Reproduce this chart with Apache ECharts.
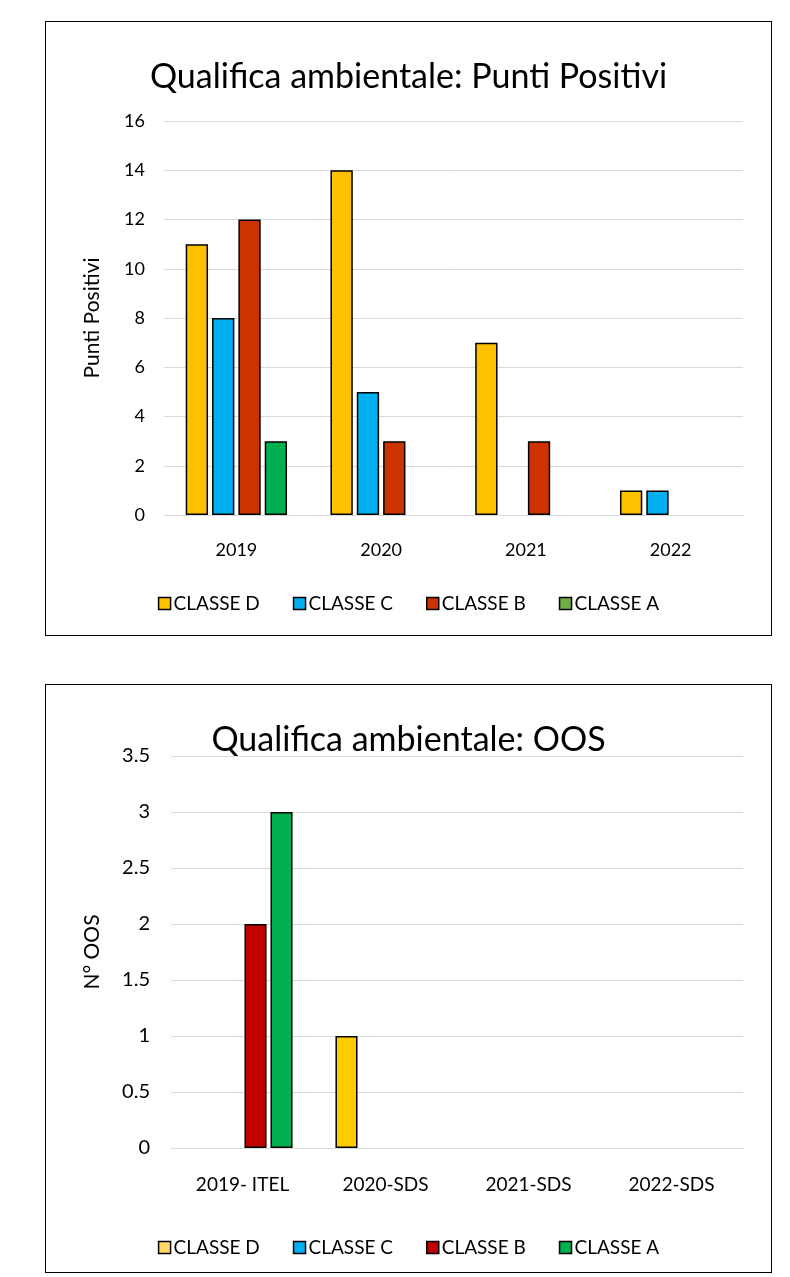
<!DOCTYPE html>
<html>
<head>
<meta charset="utf-8">
<script src="https://cdn.jsdelivr.net/npm/echarts@6/dist/echarts.min.js"></script>
<style>
  html, body { margin: 0; padding: 0; background: #fff; }
  body { width: 790px; height: 1277px; position: relative; }
  .box { position: absolute; border: 1.5px solid #000; box-sizing: border-box; background: #fff; }
  #c1 { left: 45px; top: 21px; width: 727px; height: 615px; }
  #c2 { left: 45px; top: 684px; width: 727px; height: 589px; }
</style>
</head>
<body>
<div id="c1" class="box"></div>
<div id="c2" class="box"></div>
<script>
// ---- Chart 1 data ----
const years1 = ['2019', '2020', '2021', '2022'];
const classeD1 = [11, 14, 7, 1];
const classeC1 = [8, 5, null, 1];
const classeB1 = [12, 3, 3, null];
const classeA1 = [3, null, null, null];

// ---- Chart 2 data ----
const cats2 = ['2019- ITEL', '2020-SDS', '2021-SDS', '2022-SDS'];
const classeD2 = [null, 1, null, null];
const classeC2 = [null, null, null, null];
const classeB2 = [2, null, null, null];
const classeA2 = [3, null, null, null];

const seriesNames = ['CLASSE D', 'CLASSE C', 'CLASSE B', 'CLASSE A'];

const FONT = 'Lato, "Liberation Sans", Arial, sans-serif';

function barSeries(name, data, color) {
  return {
    name: name, type: 'bar', data: data,
    barGap: '18%', barCategoryGap: '30%',
    itemStyle: { color: color, borderColor: '#000', borderWidth: 1.5 }
  };
}

function makeOption(cfg) {
  return {
    animation: false,
    textStyle: { fontFamily: FONT },
    title: {
      text: cfg.title, left: 'center', top: cfg.titleTop,
      textStyle: { fontFamily: FONT, fontWeight: 'normal', fontSize: 34, color: '#000' }
    },
    grid: cfg.grid,
    legend: {
      bottom: cfg.legendBottom, left: 'center',
      icon: 'rect', itemWidth: 12, itemHeight: 12, itemGap: 33,
      textStyle: { fontFamily: FONT, fontSize: 19, color: '#000', padding: [0, 0, 0, -2] },
      data: seriesNames.map((n, i) => ({
        name: n,
        itemStyle: { color: cfg.legendColors[i], borderColor: '#000', borderWidth: 1.5 }
      }))
    },
    xAxis: {
      type: 'category', data: cfg.cats,
      axisLine: { lineStyle: { color: '#D9D9D9', width: 1 } },
      axisTick: { show: false },
      axisLabel: { fontFamily: FONT, fontSize: cfg.xSize, color: '#000', margin: cfg.xMargin }
    },
    yAxis: {
      type: 'value', min: 0, max: cfg.max, interval: cfg.interval,
      name: cfg.yName, nameLocation: 'middle', nameGap: cfg.nameGap, nameRotate: 90,
      nameTextStyle: { fontFamily: FONT, fontSize: 21, color: '#000' },
      axisLine: { show: false }, axisTick: { show: false },
      axisLabel: { fontFamily: FONT, fontSize: cfg.ySize, color: '#000', margin: cfg.yMargin },
      splitLine: { lineStyle: { color: '#D9D9D9', width: 1 } }
    },
    series: [
      barSeries('CLASSE D', cfg.data[0], cfg.colors[0]),
      barSeries('CLASSE C', cfg.data[1], cfg.colors[1]),
      barSeries('CLASSE B', cfg.data[2], cfg.colors[2]),
      barSeries('CLASSE A', cfg.data[3], cfg.colors[3])
    ]
  };
}

const ch1 = echarts.init(document.getElementById('c1'), null, { renderer: 'canvas' });
ch1.setOption(makeOption({
  title: 'Qualifica ambientale: Punti Positivi', titleTop: 33,
  grid: { left: 118, right: 28, top: 99, bottom: 120 },
  legendBottom: 17, xMargin: 26, xSize: 18, ySize: 18, yMargin: 19,
  cats: years1, max: 16, interval: 2,
  yName: 'Punti Positivi', nameGap: 61,
  data: [classeD1, classeC1, classeB1, classeA1],
  colors: ['#FFC000', '#00B0F0', '#CC3300', '#00B050'],
  legendColors: ['#FFC000', '#00B0F0', '#CC3300', '#70AD47']
}));

const ch2 = echarts.init(document.getElementById('c2'), null, { renderer: 'canvas' });
ch2.setOption(makeOption({
  title: 'Qualifica ambientale: OOS', titleTop: 33,
  grid: { left: 125, right: 28, top: 71, bottom: 124 },
  legendBottom: 10, xMargin: 27, xSize: 19, ySize: 20, yMargin: 21,
  cats: cats2, max: 3.5, interval: 0.5,
  yName: 'N° OOS', nameGap: 68,
  data: [classeD2, classeC2, classeB2, classeA2],
  colors: ['#FFCC00', '#00B0F0', '#C00000', '#00B050'],
  legendColors: ['#FFD966', '#00B0F0', '#C00000', '#00B050']
}));
</script>
</body>
</html>
